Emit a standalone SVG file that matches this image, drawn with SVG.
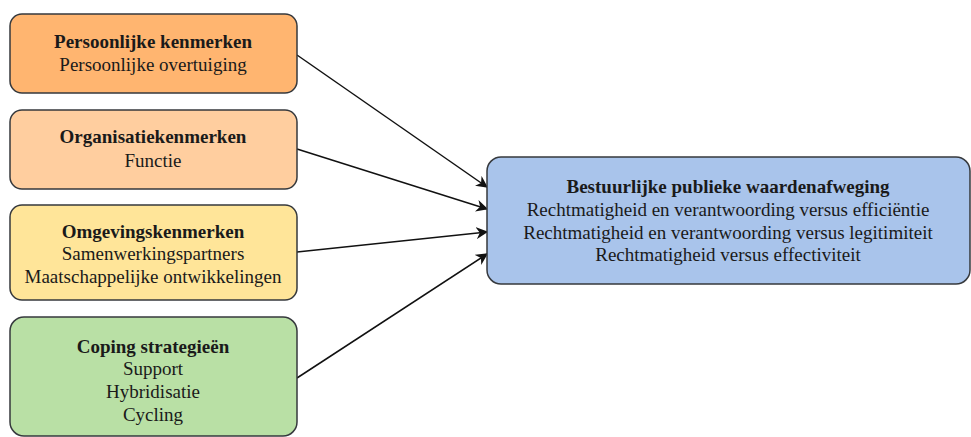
<svg xmlns="http://www.w3.org/2000/svg" width="971" height="437" viewBox="0 0 971 437">
  <style>
    .box { stroke: #36393d; stroke-width: 1.5; }
    .t { font-family: "Liberation Serif", "Times New Roman", serif; font-size: 19px; fill: #1a1a1a; text-anchor: middle; }
    .b { font-weight: bold; }
    .edge { stroke: #111; stroke-width: 1.5; fill: none; marker-end: url(#arrow); }
  </style>
  <defs>
    <marker id="arrow" viewBox="0 0 10 10" refX="9" refY="5" markerWidth="12" markerHeight="12" markerUnits="userSpaceOnUse" orient="auto">
      <path d="M0,0 L10,5 L0,10 L3,5 Z" fill="#111"/>
    </marker>
  </defs>
  <rect width="971" height="437" fill="#ffffff"/>

  <g id="connectors">
    <line class="edge" x1="297" y1="55" x2="487" y2="187"/>
    <line class="edge" x1="297" y1="149" x2="487" y2="209"/>
    <line class="edge" x1="297" y1="252" x2="487" y2="232"/>
    <line class="edge" x1="297" y1="378" x2="487" y2="254"/>
  </g>

  <g id="persoonlijke">
    <rect class="box" x="10" y="14" width="287" height="79" rx="12" fill="#FFB570"/>
    <text class="t b" x="153" y="48">Persoonlijke kenmerken</text>
    <text class="t" x="153" y="71">Persoonlijke overtuiging</text>
  </g>

  <g id="organisatie">
    <rect class="box" x="10" y="110" width="287" height="79" rx="12" fill="#FFCE9F"/>
    <text class="t b" x="153" y="143">Organisatiekenmerken</text>
    <text class="t" x="153" y="167">Functie</text>
  </g>

  <g id="omgeving">
    <rect class="box" x="10" y="205" width="287" height="95" rx="12" fill="#FFE599"/>
    <text class="t b" x="153" y="238">Omgevingskenmerken</text>
    <text class="t" x="153" y="260">Samenwerkingspartners</text>
    <text class="t" x="153" y="283">Maatschappelijke ontwikkelingen</text>
  </g>

  <g id="coping">
    <rect class="box" x="10" y="317" width="287" height="119" rx="14" fill="#B9E0A5"/>
    <text class="t b" x="153" y="353">Coping strategieën</text>
    <text class="t" x="153" y="375">Support</text>
    <text class="t" x="153" y="398">Hybridisatie</text>
    <text class="t" x="153" y="421">Cycling</text>
  </g>

  <g id="bestuurlijk">
    <rect class="box" x="487" y="157" width="483" height="127" rx="14" fill="#A9C4EB"/>
    <text class="t b" x="728" y="193">Bestuurlijke publieke waardenafweging</text>
    <text class="t" x="728" y="216">Rechtmatigheid en verantwoording versus efficiëntie</text>
    <text class="t" x="728" y="239">Rechtmatigheid en verantwoording versus legitimiteit</text>
    <text class="t" x="728" y="261">Rechtmatigheid versus effectiviteit</text>
  </g>
</svg>
